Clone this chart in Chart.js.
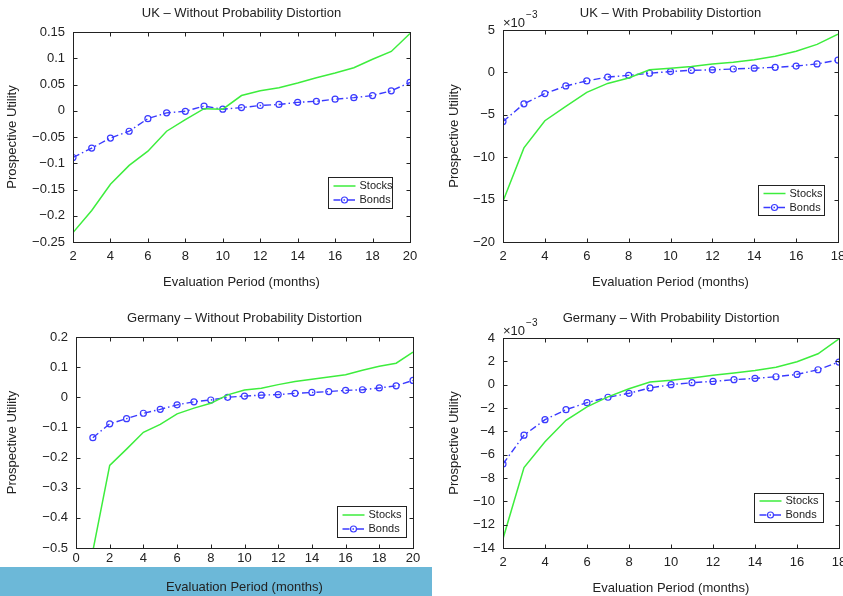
<!DOCTYPE html>
<html>
<head>
<meta charset="utf-8">
<script src="https://cdn.jsdelivr.net/npm/chart.js@4.4.1/dist/chart.umd.min.js"></script>
<style>
  html, body { margin: 0; padding: 0; background: #fff; width: 843px; height: 596px; overflow: hidden; }
  .panel { position: absolute; }
  #band { position: absolute; left: 0; top: 567px; width: 432px; height: 29px; background: #6cb8d8; }
</style>
</head>
<body>
<div id="band"></div>
<canvas id="ukPlain" class="panel" width="430" height="300" style="left:0;top:0"></canvas>
<canvas id="ukDist" class="panel" width="430" height="300" style="left:430px;top:0"></canvas>
<canvas id="dePlain" class="panel" width="432" height="296" style="left:0;top:300px"></canvas>
<canvas id="deDist" class="panel" width="430" height="296" style="left:430px;top:300px"></canvas>
<script>
// UK - without probability distortion
const ukMonths = [2, 3, 4, 5, 6, 7, 8, 9, 10, 11, 12, 13, 14, 15, 16, 17, 18, 19, 20];
const ukPlainStocks = [-0.232, -0.19, -0.14, -0.104, -0.077, -0.039, -0.017, 0.004, 0.003, 0.029, 0.038, 0.044, 0.053, 0.063, 0.072, 0.082, 0.098, 0.113, 0.147];
const ukPlainBonds = [-0.089, -0.071, -0.052, -0.039, -0.015, -0.004, -0.001, 0.009, 0.003, 0.006, 0.010, 0.012, 0.016, 0.018, 0.022, 0.025, 0.029, 0.038, 0.054];

// UK - with probability distortion
const ukDistMonths = [2, 3, 4, 5, 6, 7, 8, 9, 10, 11, 12, 13, 14, 15, 16, 17, 18];
const ukDistStocks = [-0.0152, -0.0089, -0.0057, -0.0040, -0.00235, -0.0013, -0.00065, 0.0003, 0.0005, 0.0007, 0.0010, 0.0012, 0.0015, 0.0019, 0.0025, 0.0033, 0.0045];
const ukDistBonds = [-0.0058, -0.0037, -0.0025, -0.0016, -0.0010, -0.00055, -0.00035, -0.0001, 0.0001, 0.00025, 0.0003, 0.0004, 0.0005, 0.0006, 0.00075, 0.0010, 0.00145];

// Germany - without probability distortion
const deMonths = [1, 2, 3, 4, 5, 6, 7, 8, 9, 10, 11, 12, 13, 14, 15, 16, 17, 18, 19, 20];
const dePlainStocks = [-0.51, -0.226, -0.172, -0.116, -0.09, -0.055, -0.036, -0.02, 0.008, 0.024, 0.03, 0.042, 0.052, 0.06, 0.067, 0.075, 0.09, 0.103, 0.113, 0.15];
const dePlainBonds = [-0.134, -0.088, -0.071, -0.053, -0.04, -0.025, -0.015, -0.009, 0, 0.004, 0.007, 0.009, 0.013, 0.016, 0.019, 0.023, 0.025, 0.031, 0.038, 0.056];

// Germany - with probability distortion
const deDistMonths = [2, 3, 4, 5, 6, 7, 8, 9, 10, 11, 12, 13, 14, 15, 16, 17, 18];
const deDistStocks = [-0.0132, -0.0071, -0.0049, -0.00305, -0.0019, -0.00105, -0.00035, 0.00023, 0.00037, 0.00057, 0.0008, 0.0010, 0.00122, 0.0015, 0.00197, 0.00265, 0.00393];
const deDistBonds = [-0.0068, -0.00433, -0.0030, -0.00214, -0.00154, -0.00108, -0.00074, -0.00028, 0, 0.00017, 0.00028, 0.00043, 0.00054, 0.00068, 0.00088, 0.00128, 0.00194];

const seriesNames = ['Stocks', 'Bonds'];
const stocksColor = '#3ded3d';
const bondsColor = '#3a3aff';
const textColor = '#222';

Chart.defaults.font.family = '"Liberation Sans", Arial, sans-serif';
Chart.defaults.font.size = 13;
Chart.defaults.color = textColor;

const minus = s => s.replace('-', '\u2212');
const plainFmt = v => minus(parseFloat(v.toFixed(4)).toString());
const milliFmt = v => minus(String(Math.round(v * 1000)));

// matlab style box, inner ticks, exponent label and legend
const matlabBox = {
  id: 'matlabBox',
  afterDatasetsDraw(chart, args, opts) {
    const { ctx, chartArea: a, scales: { x, y } } = chart;
    ctx.save();
    ctx.strokeStyle = '#222';
    ctx.lineWidth = 1;
    const L = Math.round(a.left) + 0.5, R = Math.round(a.right) + 0.5;
    const T = Math.round(a.top) + 0.5, B = Math.round(a.bottom) + 0.5;
    ctx.strokeRect(L, T, R - L, B - T);
    ctx.beginPath();
    x.ticks.forEach(t => {
      const px = Math.round(x.getPixelForValue(t.value)) + 0.5;
      ctx.moveTo(px, B); ctx.lineTo(px, B - 4);
      ctx.moveTo(px, T); ctx.lineTo(px, T + 4);
    });
    y.ticks.forEach(t => {
      const py = Math.round(y.getPixelForValue(t.value)) + 0.5;
      ctx.moveTo(L, py); ctx.lineTo(L + 4, py);
      ctx.moveTo(R, py); ctx.lineTo(R - 4, py);
    });
    ctx.stroke();

    if (opts.exponent) {
      ctx.fillStyle = textColor;
      ctx.textBaseline = 'alphabetic';
      ctx.textAlign = 'left';
      ctx.font = '13px "Liberation Sans", Arial, sans-serif';
      ctx.fillText('\u00d710', a.left, a.top - 3);
      const w = ctx.measureText('\u00d710').width;
      ctx.font = '10px "Liberation Sans", Arial, sans-serif';
      ctx.fillText('\u22123', a.left + w + 1, a.top - 12);
    }

    const lg = opts.legend;
    if (lg) {
      const bx = Math.round(a.right - lg.right - lg.w) + 0.5;
      const by = Math.round(a.bottom - lg.bottom - lg.h) + 0.5;
      ctx.fillStyle = '#fff';
      ctx.fillRect(bx, by, lg.w, lg.h);
      ctx.strokeStyle = '#222';
      ctx.strokeRect(bx, by, lg.w, lg.h);
      ctx.font = '11px "Liberation Sans", Arial, sans-serif';
      ctx.textBaseline = 'middle';
      chart.data.datasets.forEach((ds, i) => {
        const ry = by + lg.h / 2 + (i === 0 ? -7 : 7);
        ctx.save();
        ctx.strokeStyle = ds.borderColor;
        ctx.lineWidth = ds.borderWidth;
        ctx.setLineDash(ds.borderDash || []);
        ctx.beginPath();
        ctx.moveTo(bx + 5, ry); ctx.lineTo(bx + 27, ry);
        ctx.stroke();
        ctx.setLineDash([]);
        if (ds.pointRadius) {
          ctx.lineWidth = ds.pointBorderWidth;
          ctx.beginPath();
          ctx.arc(bx + 16, ry, ds.pointRadius, 0, Math.PI * 2);
          ctx.stroke();
        }
        ctx.restore();
        ctx.fillStyle = textColor;
        ctx.fillText(ds.label, bx + 31, ry);
      });
    }
    ctx.restore();
  }
};

function makeChart(id, months, stocks, bonds, o) {
  const pts = vals => months.map((m, i) => ({ x: m, y: vals[i] }));
  return new Chart(document.getElementById(id), {
    type: 'line',
    data: {
      datasets: [
        {
          label: seriesNames[0],
          data: pts(stocks),
          borderColor: stocksColor,
          borderWidth: 1.5,
          pointRadius: 0,
          tension: 0,
          fill: false
        },
        {
          label: seriesNames[1],
          data: pts(bonds),
          borderColor: bondsColor,
          borderWidth: 1.4,
          borderDash: [7, 3, 1.5, 3],
          pointRadius: 3,
          pointBorderWidth: 1.2,
          pointBorderColor: bondsColor,
          pointBackgroundColor: 'rgba(255,255,255,0)',
          tension: 0,
          fill: false
        }
      ]
    },
    options: {
      responsive: false,
      animation: false,
      devicePixelRatio: 1,
      layout: { padding: { left: 0, right: o.padRight, top: 0, bottom: 0 } },
      plugins: {
        legend: { display: false },
        tooltip: { enabled: false },
        title: {
          display: true,
          text: o.title,
          fullSize: false,
          color: textColor,
          font: { size: 13, weight: 'normal', lineHeight: 1.2 },
          padding: o.titlePad
        },
        matlabBox: { exponent: o.exponent, legend: o.legend }
      },
      scales: {
        x: {
          type: 'linear',
          min: o.xMin, max: o.xMax,
          afterFit: s => { s.height = o.xHeight; },
          grid: { display: false, drawTicks: false },
          border: { display: false },
          ticks: { stepSize: 2, autoSkip: false, maxRotation: 0, padding: o.xTickPad, color: textColor },
          title: { display: true, text: 'Evaluation Period (months)', color: textColor, padding: { top: 0, bottom: o.xTitlePad } }
        },
        y: {
          min: o.yMin, max: o.yMax,
          afterFit: s => { s.width = o.yWidth; },
          grid: { display: false, drawTicks: false },
          border: { display: false },
          ticks: { stepSize: o.yStep, padding: 8, color: textColor, callback: o.fmt },
          title: { display: true, text: 'Prospective Utility', color: textColor, padding: { top: o.yTitlePad, bottom: 0 } }
        }
      }
    },
    plugins: [matlabBox]
  });
}

makeChart('ukPlain', ukMonths, ukPlainStocks, ukPlainBonds, {
  title: 'UK \u2013 Without Probability Distortion',
  padRight: 20, titlePad: { top: 6, bottom: 10.4 }, xHeight: 58, yWidth: 73,
  xTickPad: 7, xTitlePad: 10, yTitlePad: 5,
  xMin: 2, xMax: 20, yMin: -0.25, yMax: 0.15, yStep: 0.05, fmt: plainFmt,
  exponent: false, legend: { right: 18, bottom: 34, w: 64, h: 31 }
});

makeChart('ukDist', ukDistMonths, ukDistStocks, ukDistBonds, {
  title: 'UK \u2013 With Probability Distortion',
  padRight: 22, titlePad: { top: 6, bottom: 8.4 }, xHeight: 58, yWidth: 73,
  xTickPad: 7, xTitlePad: 10, yTitlePad: 17,
  xMin: 2, xMax: 18, yMin: -0.02, yMax: 0.005, yStep: 0.005, fmt: milliFmt,
  exponent: true, legend: { right: 14, bottom: 27, w: 66, h: 30 }
});

makeChart('dePlain', deMonths, dePlainStocks, dePlainBonds, {
  title: 'Germany \u2013 Without Probability Distortion',
  padRight: 19, titlePad: { top: 11, bottom: 10.4 }, xHeight: 48, yWidth: 76,
  xTickPad: 3, xTitlePad: 1, yTitlePad: 5,
  xMin: 0, xMax: 20, yMin: -0.5, yMax: 0.2, yStep: 0.1, fmt: plainFmt,
  exponent: false, legend: { right: 7, bottom: 11, w: 69, h: 31 }
});

makeChart('deDist', deDistMonths, deDistStocks, deDistBonds, {
  title: 'Germany \u2013 With Probability Distortion',
  padRight: 21, titlePad: { top: 11, bottom: 11.4 }, xHeight: 48, yWidth: 73,
  xTickPad: 7, xTitlePad: 0, yTitlePad: 17,
  xMin: 2, xMax: 18, yMin: -0.014, yMax: 0.004, yStep: 0.002, fmt: milliFmt,
  exponent: true, legend: { right: 16, bottom: 26, w: 69, h: 29 }
});
</script>
</body>
</html>
